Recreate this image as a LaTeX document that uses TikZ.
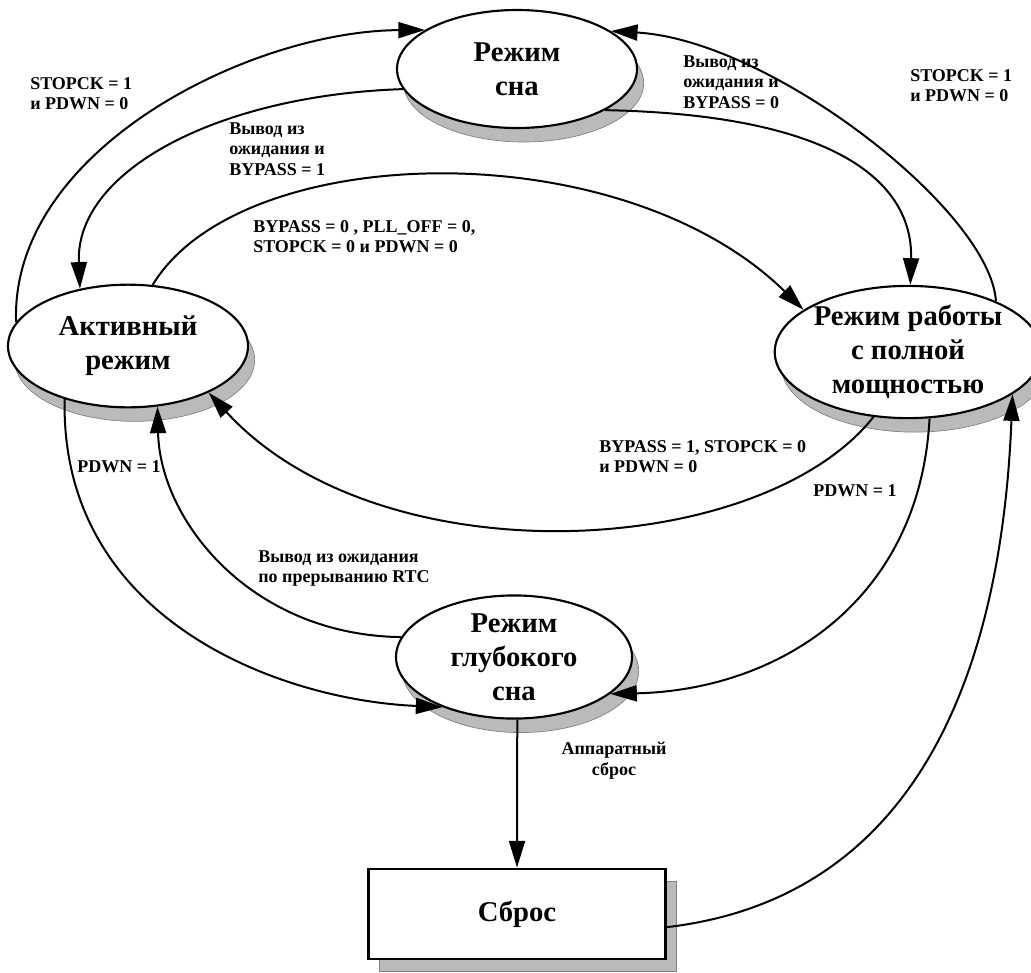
\documentclass[tikz,border=0pt]{standalone}
\usepackage{fontspec}
\setmainfont{Liberation Serif}
\usetikzlibrary{shapes.geometric,arrows.meta,shadows}
\begin{document}
\begin{tikzpicture}[x=0.75pt,y=-0.75pt,
  state/.style={ellipse, draw, line width=1.6pt, fill=white, inner sep=0pt, align=center,
    font=\fontsize{21.5}{25.5}\selectfont\bfseries,
    drop shadow={shadow xshift=5pt, shadow yshift=-10.5pt, opacity=1, fill=black!27, draw=black!50, line width=0.5pt}},
  resetbox/.style={rectangle, draw, line width=2.2pt, fill=white, inner sep=0pt,
    font=\fontsize{21.5}{25.5}\selectfont\bfseries,
    drop shadow={shadow xshift=8.25pt, shadow yshift=-9pt, opacity=1, fill=black!27, draw=black!50, line width=0.5pt}},
  lbl/.style={anchor=north west, inner sep=0pt, align=left, font=\fontsize{13.5}{15.5}\selectfont\bfseries},
  arr/.style={line width=1.5pt, -{Triangle[length=20pt,width=12pt]}}
]
\useasboundingbox (0,0) rectangle (1031,972);

\node[state, minimum width=180pt, minimum height=88.5pt] (sleep) at (517,69) {Режим\\сна};
\node[state, minimum width=180pt, minimum height=92pt] (active) at (128,346) {Активный\\режим};
\node[state, minimum width=175pt, minimum height=85pt] (full) at (908,352) {Режим работы\\с полной\\мощностью};
\node[state, minimum width=177pt, minimum height=88.5pt] (deep) at (514,657) {Режим\\глубокого\\сна};
\node[resetbox, minimum width=222.75pt, minimum height=67.5pt] (reset) at (517,914) {Сброс};

\draw[arr] (active.168) .. controls (10,150) and (250,31) .. (sleep.157);
\draw[arr] (sleep.190) .. controls (220,95) and (75,170) .. (active.130);
\draw[arr] (active.68) .. controls (240,140) and (620,130) .. (full.158);
\draw[arr] (sleep.-25) .. controls (850,115) and (913,190) .. (full.88);
\draw[arr] (full.30) .. controls (990,210) and (770,40) .. (sleep.22);
\draw[arr] (full.-118) .. controls (760,560) and (380,580) .. (active.-30);
\draw[arr] (active.-140) .. controls (60,620) and (280,700) .. (deep.-145);
\draw[arr] (deep.170) .. controls (250,635) and (160,520) .. (active.-64);
\draw[arr] (full.-72) .. controls (920,600) and (780,690) .. (deep.-21);
\draw[arr] (deep.-87) -- (reset.north);
\draw[arr] (reset.-5) .. controls (900,900) and (1000,700) .. (full.-22);

\node[lbl] (l1) at (30,77) {STOPCK = 1\\и PDWN = 0};
\node[lbl] (l2) at (229,122) {Вывод из\\ожидания и\\BYPASS = 1};
\node[lbl] (l3) at (253,220) {BYPASS = 0 , PLL\_OFF = 0,\\STOPCK = 0 и PDWN = 0};
\node[lbl] (l4) at (683,55) {Вывод из\\ожидания и\\BYPASS = 0};
\node[lbl] (l5) at (910,69) {STOPCK = 1\\и PDWN = 0};
\node[lbl] (l6) at (599,440) {BYPASS = 1, STOPCK = 0\\и PDWN = 0};
\node[lbl] (l7) at (813,484) {PDWN = 1};
\node[lbl] (l8) at (77,460) {PDWN = 1};
\node[lbl] (l9) at (258,550) {Вывод из ожидания\\по прерыванию RTC};
\node[lbl, anchor=north, align=center] (l10) at (614,742) {Аппаратный\\сброс};
\end{tikzpicture}
\end{document}
